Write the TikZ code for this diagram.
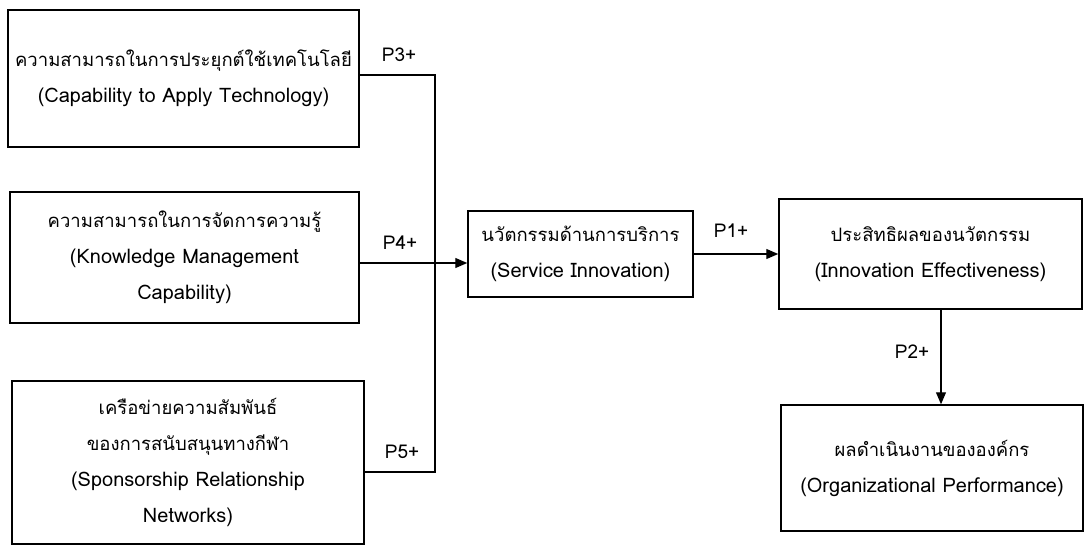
\documentclass[tikz,border=0pt]{standalone}
\usepackage{fontspec}
\newfontfamily\thaifont[Script=Thai]{Loma}
\usetikzlibrary{arrows.meta}
\newcommand\thline{\fontsize{18.5}{36}\selectfont}
\newcommand\enline{\fontsize{20}{36}\selectfont}
\tikzset{
  box/.style={draw, line width=1.5pt, rectangle, inner sep=0pt, align=center,
    font=\thaifont\fontsize{18.5}{36}\selectfont},
  link/.style={line width=1.2pt},
  arr/.style={link, -{Triangle[length=12pt,width=10pt]}},
  plabel/.style={font=\thaifont\fontsize{19}{22}\selectfont, inner sep=0pt}
}
\begin{document}
\begin{tikzpicture}[x=1pt,y=-1pt]
\useasboundingbox (0,0) rectangle (1084,546);

% source constructs
\node[box, minimum width=351pt, minimum height=137pt] (tech) at (183.5,78.5)
  {\thline ความสามารถในการประยุกต์ใช้เทคโนโลยี\\\enline (Capability to Apply Technology)};
\node[box, minimum width=349pt, minimum height=131pt] (km) at (184.5,257.5)
  {\thline ความสามารถในการจัดการความรู้\\\enline (Knowledge Management\\\enline Capability)};
\node[box, minimum width=352pt, minimum height=163pt] (spon) at (188,462.5)
  {\thline เครือข่ายความสัมพันธ์\\\thline ของการสนับสนุนทางกีฬา\\\enline (Sponsorship Relationship\\\enline Networks)};

% mediating and outcome constructs
\node[box, minimum width=225pt, minimum height=86pt] (serv) at (580.5,254)
  {\thline นวัตกรรมด้านการบริการ\\\enline (Service Innovation)};
\node[box, minimum width=303pt, minimum height=110pt] (eff) at (930.5,254)
  {\thline ประสิทธิผลของนวัตกรรม\\\enline (Innovation Effectiveness)};
\node[box, minimum width=302pt, minimum height=126pt] (perf) at (932,468)
  {\thline ผลดำเนินงานขององค์กร\\\enline (Organizational Performance)};

% junction points of the collecting line
\coordinate (jtop) at (435,75);
\coordinate (jmid) at (435,263);
\coordinate (jbot) at (435,472);
\coordinate (down) at (941,0);

\draw[link] (tech.east |- jtop) -- (jtop) -- (jbot) -- (spon.east |- jbot);
\draw[arr] (km.east |- jmid) -- (serv.west |- jmid);
\draw[arr] (serv.east) -- (eff.west);
\draw[arr] (eff.south -| down) -- (perf.north -| down);

% path labels
\node[plabel] (p3) at (399,55) {P3+};
\node[plabel] (p4) at (400,243) {P4+};
\node[plabel] (p5) at (402,452) {P5+};
\node[plabel] (p1) at (731,231) {P1+};
\node[plabel] (p2) at (912,352) {P2+};
\end{tikzpicture}
\end{document}
